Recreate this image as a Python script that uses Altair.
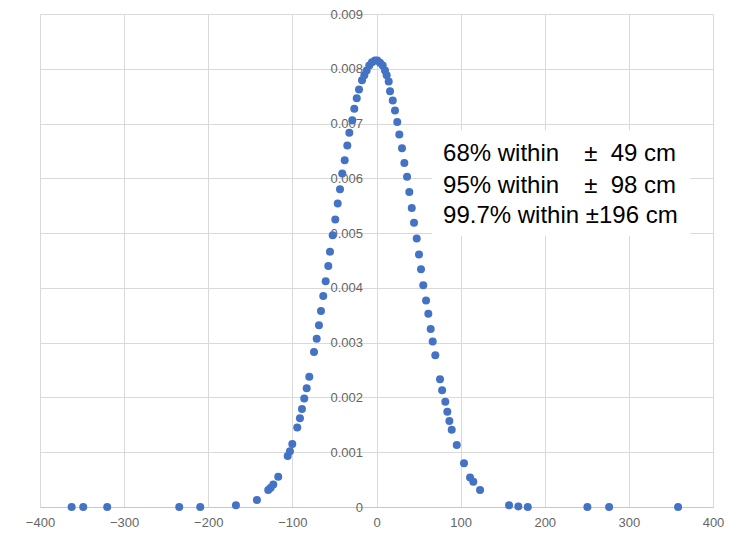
import altair as alt
import pandas as pd

# Points (x in cm, y = density)
xs = [-362.4, -348.6, -320.1, -234.5, -209.5, -167.1, -142.1, -128.7, -125.8, -122.7,
      -116.8, -105.6, -102.9, -100.1, -94.2, -91.0, -88.6, -85.9, -83.0, -79.9,
      -74.3, -71.1, -68.4, -66.0, -63.3, -60.4, -57.3, -55.3, -52.1, -49.0,
      -46.1, -43.4, -40.7, -37.8, -34.7, -32.3, -28.8, -26.4, -23.5, -20.8,
      -17.2, -14.5, -11.7, -8.6, -5.4, -1.8, 0.95, 4.2, 7.4, 10.1,
      12.1, 14.5, 16.1, 19.3, 22.0, 24.7, 27.1, 30.3, 33.1, 36.3,
      39.0, 41.9, 44.6, 47.8, 50.5, 52.9, 55.6, 58.9, 61.6, 64.4,
      66.8, 69.9, 75.5, 78.0, 81.8, 84.2, 86.6, 89.4, 95.4, 104.0,
      111.2, 115.1, 123.1, 157.6, 168.6, 179.8, 250.7, 276.5, 358.5]
ys = [0.0, 0.0, 0.0, 0.0, 0.0, 0.00003, 0.00013, 0.00031, 0.00035, 0.00041,
      0.00055, 0.00093, 0.00102, 0.00115, 0.00145, 0.00162, 0.00179, 0.00198, 0.00217, 0.00238,
      0.00283, 0.00307, 0.00332, 0.00358, 0.00385, 0.00412, 0.00440, 0.00466, 0.00496, 0.00525,
      0.00554, 0.00580, 0.00609, 0.00633, 0.00660, 0.00683, 0.00706, 0.00727, 0.00746, 0.00762,
      0.00779, 0.00788, 0.00797, 0.00806, 0.00812, 0.00815, 0.00815, 0.00811, 0.00806, 0.00797,
      0.00788, 0.00777, 0.00759, 0.00742, 0.00724, 0.00703, 0.00680, 0.00655, 0.00628, 0.00603,
      0.00575, 0.00546, 0.00519, 0.00490, 0.00461, 0.00434, 0.00405, 0.00377, 0.00353, 0.00325,
      0.00302, 0.00277, 0.00233, 0.00213, 0.00192, 0.00174, 0.00157, 0.00141, 0.00113, 0.00080,
      0.00054, 0.00046, 0.00031, 0.00003, 0.00001, 0.0, 0.0, 0.0, 0.0]

x_ticks = [-400, -300, -200, -100, 0, 100, 200, 300, 400]
y_ticks = [0, 0.001, 0.002, 0.003, 0.004, 0.005, 0.006, 0.007, 0.008, 0.009]

# Annotation box and text (data coordinates)
box = pd.DataFrame({"x": [66], "x2": [373], "y": [0.00495], "y2": [0.00688]})
left_text = pd.DataFrame({
    "x": [79.1, 79.1, 79.1],
    "y": [0.00645, 0.00586, 0.00532],
    "t": ["68% within", "95% within", "99.7% within \u00b1196 cm"],
})
right_text = pd.DataFrame({
    "x": [356.1, 356.1],
    "y": [0.00645, 0.00586],
    "t": ["\u00b1\u00a0\u00a049 cm", "\u00b1\u00a0\u00a098 cm"],
})

df = pd.DataFrame({"x": xs, "y": ys})

W, H = 673, 493
xscale = alt.Scale(domain=[-400, 400], nice=False, zero=False)
yscale = alt.Scale(domain=[0, 0.009], nice=False)

points = alt.Chart(df).mark_circle(size=64, color="#4472C4", opacity=1).encode(
    x=alt.X("x:Q", scale=xscale, title=None,
            axis=alt.Axis(values=x_ticks, grid=True, gridColor="#d9d9d9", ticks=False, tickSize=0,
                          domain=True, domainColor="#c8c8c8", labelFlush=False,
                          labelColor="#666666", labelFont="Liberation Sans", labelFontSize=13,
                          labelPadding=9)),
    y=alt.Y("y:Q", scale=yscale, title=None,
            axis=alt.Axis(values=y_ticks, grid=True, gridColor="#d9d9d9", ticks=False, tickSize=0,
                          domain=False, format=".3~f", offset=-W / 2,
                          labelColor="#666666", labelFont="Liberation Sans", labelFontSize=13,
                          labelPadding=14)),
)

box_layer = alt.Chart(box).mark_rect(color="white").encode(
    x=alt.X("x:Q", scale=xscale), x2="x2:Q",
    y=alt.Y("y:Q", scale=yscale), y2="y2:Q",
)

txt_l = alt.Chart(left_text).mark_text(
    align="left", baseline="middle", font="Liberation Sans", fontSize=24, color="black"
).encode(x=alt.X("x:Q", scale=xscale), y=alt.Y("y:Q", scale=yscale), text="t:N")

txt_r = alt.Chart(right_text).mark_text(
    align="right", baseline="middle", font="Liberation Sans", fontSize=24, color="black"
).encode(x=alt.X("x:Q", scale=xscale), y=alt.Y("y:Q", scale=yscale), text="t:N")

chart = alt.layer(box_layer, points, txt_l, txt_r).properties(
    width=W, height=H,
    padding={"left": 32, "top": 6, "right": 16, "bottom": 25},
    autosize=alt.AutoSizeParams(type="none"),
    background="white",
).configure_view(stroke=None)

chart.save("out.html", embed_options={"renderer": "svg", "actions": False})
